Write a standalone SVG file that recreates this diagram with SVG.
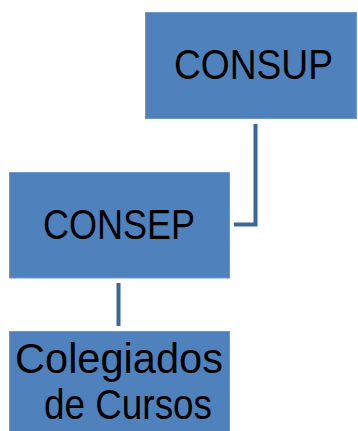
<svg xmlns="http://www.w3.org/2000/svg" width="358" height="431" viewBox="0 0 358 431">
<style>
.box{fill:#4f81bd;stroke:#6f97c8;stroke-width:1}
.t{font-family:"Liberation Sans",Arial,sans-serif;font-size:42px;fill:#000;text-anchor:middle}
.c{fill:none;stroke:#3d6698;stroke-width:4}
</style>
<rect width="358" height="431" fill="#fff"/>
<g id="connectors">
<path class="c" d="M255.5 124 V224.5 H234"/>
<path class="c" d="M118.5 283 V326"/>
</g>
<g id="consup">
<rect class="box" x="145.5" y="12.5" width="211" height="106"/>
<text class="t" x="253.5" y="79" textLength="159" lengthAdjust="spacingAndGlyphs">CONSUP</text>
</g>
<g id="consep">
<rect class="box" x="9.5" y="172.5" width="220" height="105.5"/>
<text class="t" x="119" y="239" textLength="152" lengthAdjust="spacingAndGlyphs">CONSEP</text>
</g>
<g id="colegiados">
<rect class="box" x="9.5" y="331.5" width="220" height="100"/>
<text class="t" x="119" y="373" textLength="208" lengthAdjust="spacingAndGlyphs">Colegiados</text>
<text class="t" x="128" y="419" textLength="168" lengthAdjust="spacingAndGlyphs">de Cursos</text>
</g>
</svg>
